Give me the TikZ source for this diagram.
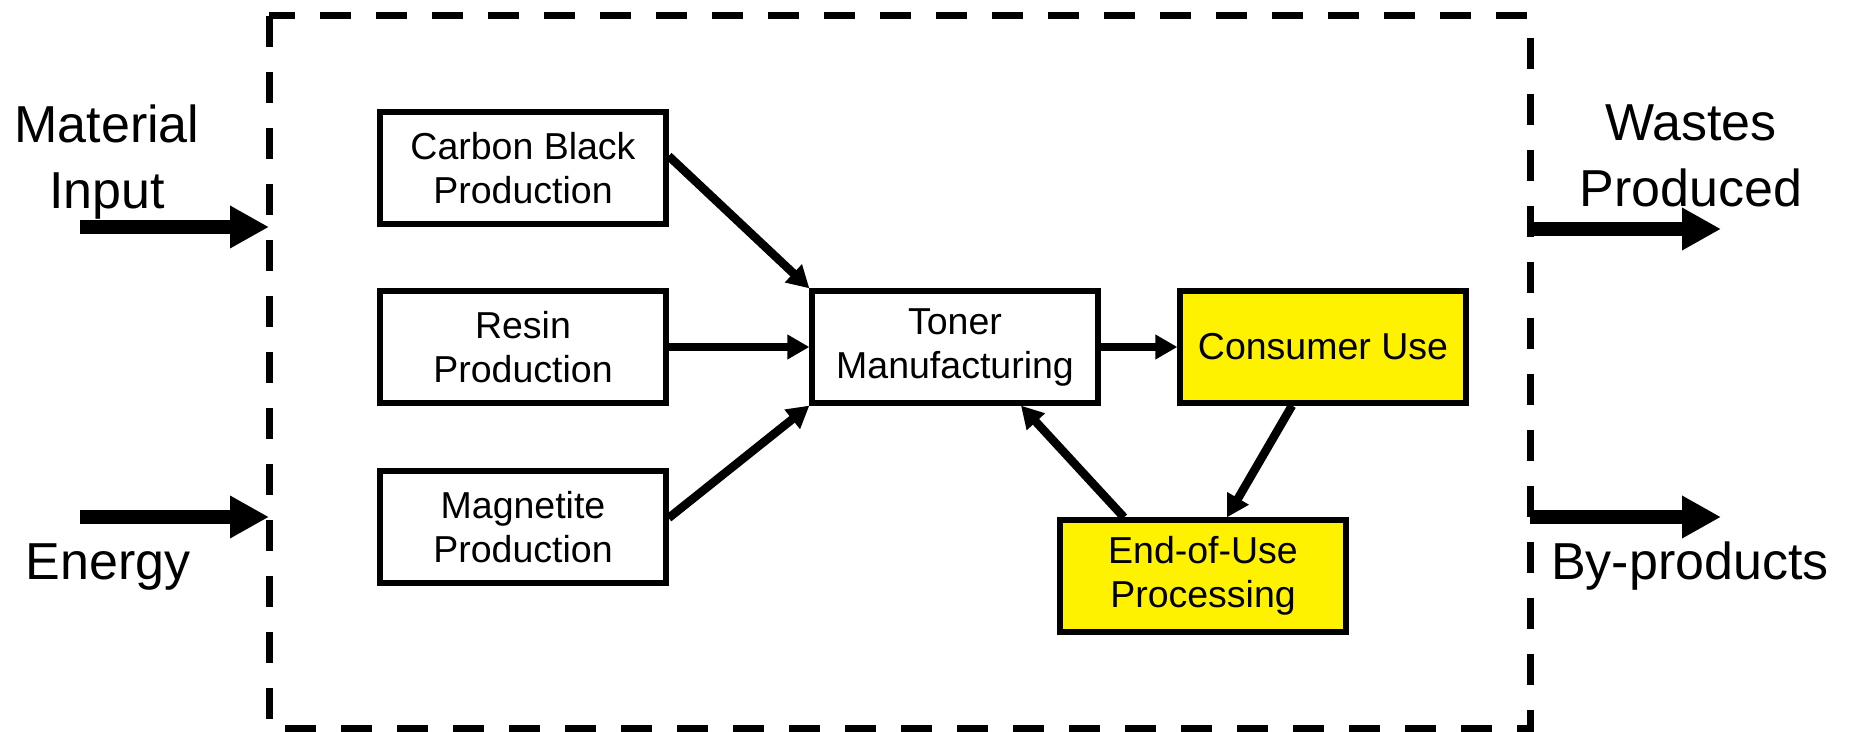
\documentclass[tikz,border=0pt]{standalone}
\usepackage{fontspec}
\setmainfont{Liberation Sans}
\usetikzlibrary{positioning, calc, arrows.meta}

\tikzset{
  stage/.style={draw, line width=2.1pt, minimum width=114.4pt, minimum height=44.8pt,
    inner sep=0pt, align=center, font=\fontsize{15}{17.6}\selectfont},
  hot/.style={stage, fill=yellow},
  flow/.style={line width=3.4pt, -{Triangle[length=8.8pt, width=9.4pt]}},
  bigflow/.style={line width=5.4pt, -{Triangle[length=15.6pt, width=16pt]}},
  outer/.style={inner sep=0pt, align=center, font=\fontsize{20.8}{26.4}\selectfont},
  boundary/.style={line width=2.8pt, dash pattern=on 12.4pt off 10pt}
}

\begin{document}
\begin{tikzpicture}[x=0.4pt,y=0.4pt,yscale=-1]
\useasboundingbox (0,0) rectangle (1854,732);

% system boundary
\coordinate (nw) at (269,16);
\coordinate (se) at (1530,728);
\draw[boundary] (nw) rectangle (se);

% process stages
\node[stage] (carbon) at (523,168) {Carbon Black\\Production};
\node[stage] (resin) at (523,347) {Resin\\Production};
\node[stage] (magnetite) at (523,527) {Magnetite\\Production};
\node[stage] (toner) at (955,347) {Toner\\Manufacturing};
\node[hot] (consumer) at (1323,347) {Consumer Use};
\node[hot] (eou) at (1203,576) {End-of-Use\\Processing};

% flows between stages
\draw[flow] ($(carbon.east)+(0,-12)$) -- (toner.north west);
\draw[flow] (resin.east) -- (toner.west);
\draw[flow] ($(magnetite.east)+(0,-9)$) -- (toner.south west);
\draw[flow] (toner.east) -- (consumer.west);
\draw[flow] ($(consumer.south)+(-31,0)$) -- ($(eou.north)+(24,0)$);
\draw[flow] ($(eou.north)+(-79,0)$) -- ($(toner.south)+(66,0)$);

% inputs
\coordinate (matin) at (80,227);
\coordinate (enin) at (80,517);
\draw[bigflow] (matin) -- (matin -| nw);
\draw[bigflow] (enin) -- (enin -| nw);
\node[outer, anchor=north] (matlabel) at (107,104) {Material\\Input};
\node[outer, anchor=base] (enlabel) at (108,579) {Energy};

% outputs
\coordinate (wasteout) at (1721,229);
\coordinate (byout) at (1721,517);
\draw[bigflow] (wasteout -| se) -- (wasteout);
\draw[bigflow] (byout -| se) -- (byout);
\node[outer, anchor=north] (wastelabel) at (1691,104) {Wastes\\Produced};
\node[outer, anchor=base] (bylabel) at (1690,579) {By-products};
\end{tikzpicture}
\end{document}
